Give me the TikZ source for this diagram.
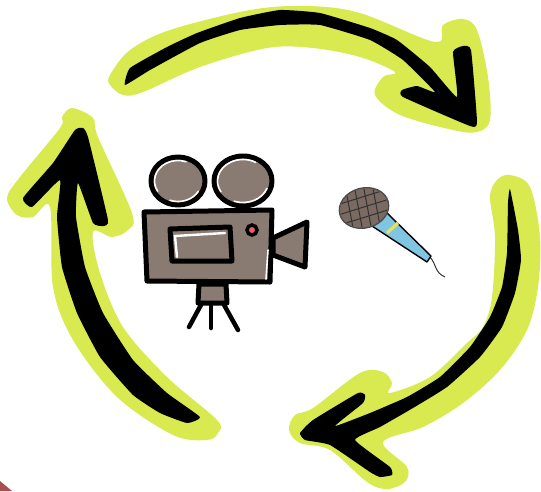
\documentclass[tikz,border=0pt]{standalone}
\definecolor{limeColor}{RGB}{216, 234, 80}
\definecolor{bodyColor}{RGB}{138, 123, 114}
\definecolor{gripColor}{RGB}{122, 106, 98}
\definecolor{handleColor}{RGB}{128, 198, 226}
\definecolor{bandColor}{RGB}{232, 226, 90}
\definecolor{lampColor}{RGB}{240, 90, 110}
\definecolor{cornerColor}{RGB}{168, 80, 80}
\begin{document}
\begin{tikzpicture}[x=1pt, y=-1pt,
      glow/.style={smooth cycle, tension=0.55},
      ink/.style={smooth cycle, tension=0.25},
      camera/.style={draw=black, fill=bodyColor, line width=5pt, line join=round},
      leg/.style={draw=black, line width=4.5pt, line cap=round},
      shine/.style={draw=white, line width=1.6pt, line cap=round}]
      \useasboundingbox (0,0) rectangle (541,491);

      % corner
      \fill[cornerColor] (0,481) -- (12,491) -- (0,491) -- cycle;

      % lime outlines
      \path[fill=limeColor] plot[glow] coordinates {(110,75) (130,50) (170,30) (250,10) (307,6) (360,13) (435,42) (443,25) (463,19) (477,30) (488,77) (490,120) (477,132) (453,130) (400,115) (375,95) (383,77) (395,72) (360,57) (313,48) (267,48) (200,67) (143,92) (123,95) (110,85)};
      \path[fill=limeColor] plot[glow] coordinates {(510,175) (530,187) (540,237) (538,287) (527,330) (500,370) (463,403) (423,427) (383,442) (407,467) (405,482) (387,489) (367,482) (330,450) (300,443) (289,430) (295,415) (313,408) (360,373) (383,372) (392,383) (390,393) (430,377) (467,343) (483,327) (492,297) (495,237) (490,197) (497,180)};
      \path[fill=limeColor] plot[glow] coordinates {(72,108) (93,118) (98,137) (132,213) (128,230) (112,237) (93,232) (100,273) (123,327) (167,377) (217,420) (218,433) (207,440) (173,435) (117,397) (73,340) (53,287) (50,207) (33,217) (17,215) (7,198) (20,177) (60,128) (62,117)};

      % black arrows
      \path[fill=black] plot[ink] coordinates {(125,85) (130,68) (167,47) (197,33) (240,18) (280,10) (320,13) (370,28) (397,40) (430,67) (457,97) (453,52) (463,46) (471,50) (477,122) (470,126) (403,97) (402,90) (417,86) (435,92) (403,60) (370,40) (320,25) (280,25) (240,30) (200,43) (150,70)};
      \path[fill=black] plot[ink] coordinates {(510,189) (518,230) (521,260) (515,293) (502,327) (480,357) (447,387) (413,408) (380,427) (355,440) (390,467) (392,475) (380,477) (370,472) (330,445) (305,440) (300,433) (313,420) (358,393) (365,395) (363,403) (335,426) (370,413) (407,397) (440,377) (470,347) (490,317) (502,287) (507,253) (508,203)};
      \path[fill=black] plot[ink] coordinates {(200,417) (187,423) (160,413) (133,395) (100,357) (77,313) (62,267) (57,217) (60,180) (32,207) (23,198) (53,163) (75,130) (83,128) (88,137) (108,220) (103,226) (93,223) (78,183) (76,217) (85,267) (103,313) (133,360) (167,393)};

      % camera
      \draw[camera] (178,181) ellipse (27 and 24);
      \draw[camera] (243,181) ellipse (29 and 25);
      \draw[shine] (178,181) ++(150:23.5 and 20.5) arc (150:290:23.5 and 20.5);
      \draw[shine] (178,181) ++(30:23.5 and 20.5) arc (30:110:23.5 and 20.5);
      \draw[shine] (243,181) ++(150:25.5 and 21.5) arc (150:300:25.5 and 21.5);
      \draw[shine] (243,181) ++(20:25.5 and 21.5) arc (20:110:25.5 and 21.5);
      \draw[camera] (199,284) -- (198,303) -- (227,303) -- (226,284) -- cycle;
      \draw[leg] (202,303) -- (189,327);
      \draw[leg] (211,303) -- (211,328);
      \draw[leg] (223,303) -- (238,330);
      \draw[camera] (273,238) -- (307,222) -- (305,267) -- (273,255) -- cycle;
      \draw[camera] (144,212) -- (272,210) -- (270,282) -- (147,281) -- cycle;
      \draw[camera] (170,229) -- (230,227) -- (232,261) -- (172,261) -- cycle;
      \draw[draw=white, line width=2.4pt, line cap=round] (177,257) -- (175,236) -- (225,233);
      \draw[shine] (268,250) -- (266,279);
      \draw[draw=black, fill=lampColor, line width=3.5pt] (252,230) circle (5);

      % microphone
      \draw[draw=black!80, line width=1pt] (430,257) .. controls (437,265) and (434,272) .. (445,277);
      \draw[draw=black, fill=handleColor, line width=1.4pt, line join=round] (387,213) -- (431,256) -- (427,262) -- (372,226) -- cycle;
      \draw[draw=bandColor, line width=3.2pt] (398,223) -- (387,233);
      \draw[draw=black!70, fill=gripColor, line width=1.3pt, rotate around={15:(364,208)}] (364,208) ellipse (25 and 20);
      \begin{scope}[shift={(364,208)}, rotate=15]
        \clip (0,0) ellipse (24 and 19);
        \foreach \gx in {-13,-4,5,14}
          \draw[draw=black!80, line width=1pt] (\gx,-20) -- (\gx-3,20);
        \foreach \gy in {-10,0,10}
          \draw[draw=black!80, line width=1pt] (-25,\gy) -- (25,\gy-2);
      \end{scope}
\end{tikzpicture}
\end{document}
